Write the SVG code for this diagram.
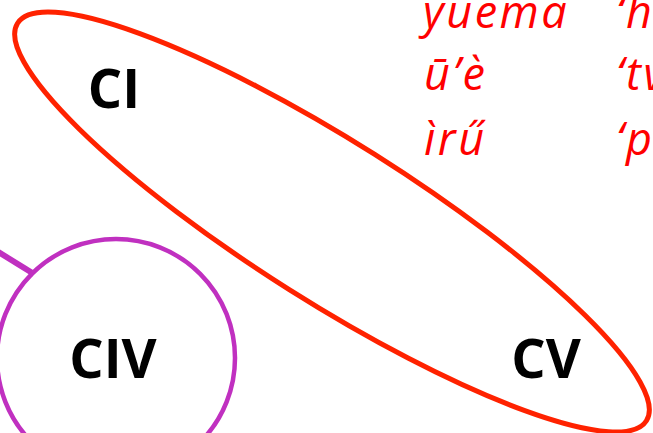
<svg xmlns="http://www.w3.org/2000/svg" width="653" height="433" viewBox="0 0 653 433">
<style>
.lbl{font-family:"Open Sans","Liberation Sans",sans-serif;font-weight:bold;font-size:54px;fill:#000}
.red{font-family:"Open Sans","Noto Sans",sans-serif;font-style:italic;font-size:45px;letter-spacing:2.5px;fill:#ff0000}
</style>
<rect width="653" height="433" fill="#fff"/>
<g id="connectors">
<line x1="-5" y1="250" x2="34" y2="274" stroke="#c030c0" stroke-width="6"/>
</g>
<g id="CI-CV-group">
<ellipse cx="332" cy="222" rx="372" ry="80" transform="rotate(32.3 332 222)" fill="none" stroke="#ff2200" stroke-width="5"/>
</g>
<g id="CIV">
<circle cx="116" cy="358" r="119" fill="none" stroke="#c030c0" stroke-width="4.5"/>
<text class="lbl" x="113" y="378" text-anchor="middle">CIV</text>
</g>
<g id="CI">
<text class="lbl" x="114" y="108" text-anchor="middle">CI</text>
</g>
<g id="CV">
<text class="lbl" x="546" y="378" text-anchor="middle">CV</text>
</g>
<g id="words">
<text class="red" x="423" y="28">yuema</text>
<text class="red" x="424" y="90">ū’è</text>
<text class="red" x="424" y="155">ìrű</text>
<text class="red" x="616" y="28">‘h</text>
<text class="red" x="616" y="90">‘tv</text>
<text class="red" x="616" y="155">‘p</text>
</g>
</svg>
